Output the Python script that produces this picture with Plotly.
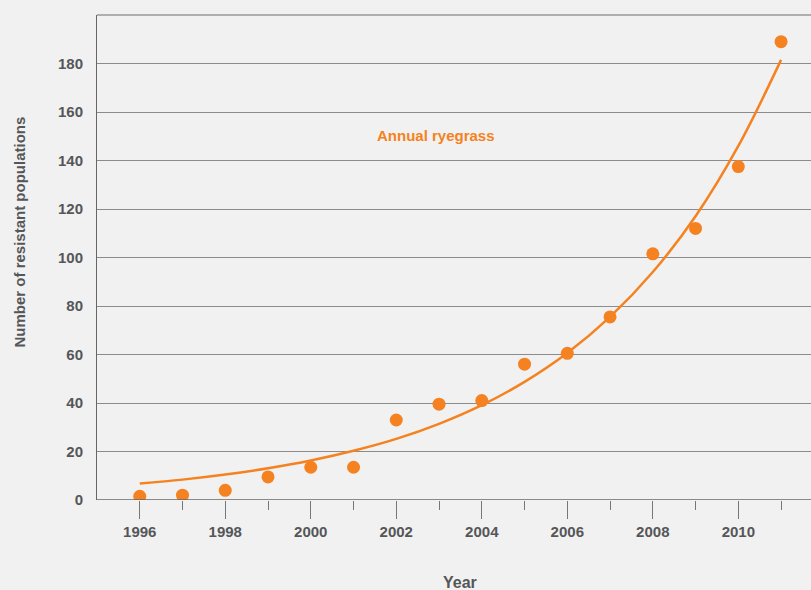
import plotly.graph_objects as go

years = list(range(1996, 2012))
populations = [1.5, 2, 4, 9.5, 13.5, 13.5, 33, 39.5, 41, 56, 60.5, 75.5, 101.5, 112, 137.5, 189]
trend = [6.8, 8.4, 10.5, 13.1, 16.3, 20.3, 25.2, 31.4, 39.1, 48.7, 60.6, 75.5, 94, 117, 146, 181.5]
major_years = [1996, 1998, 2000, 2002, 2004, 2006, 2008, 2010]
minor_years = [1997, 1999, 2001, 2003, 2005, 2007, 2009, 2011]
y_ticks = [0, 20, 40, 60, 80, 100, 120, 140, 160, 180, 200]
y_labels = ["0", "20", "40", "60", "80", "100", "120", "140", "160", "180", ""]

ORANGE = "#f58220"
TEXT = "#555658"
BG = "#f1f1f1"
FONT = "Liberation Sans"

W, H = 811, 590
L, R, T, B = 97, 0, 15, 90
PW, PH = W - L - R, H - T - B

fig = go.Figure()
fig.add_trace(go.Scatter(x=years, y=trend, mode="lines", line=dict(color=ORANGE, width=2.5, shape="spline"),
                         hoverinfo="skip", showlegend=False))
fig.add_trace(go.Scatter(x=years, y=populations, mode="markers",
                         marker=dict(color=ORANGE, size=13, line=dict(width=0)), showlegend=False))

fig.add_annotation(x=2002.94, y=150.5, text="<b>Annual ryegrass</b>", showarrow=False,
                   font=dict(family=FONT, size=15, color=ORANGE))
fig.add_annotation(xref="paper", yref="paper", x=(19 - L) / PW, y=(H - B - 232.5) / PH,
                   text="<b>Number of resistant populations</b>", textangle=-90, showarrow=False,
                   xanchor="center", yanchor="middle", font=dict(family=FONT, size=15, color=TEXT))
fig.add_annotation(xref="paper", yref="paper", x=(459.5 - L) / PW, y=(H - B - 582) / PH,
                   text="<b>Year</b>", showarrow=False,
                   xanchor="center", yanchor="middle", font=dict(family=FONT, size=16, color=TEXT))

fig.update_layout(
    width=W, height=H,
    margin=dict(l=L, r=R, t=T, b=B, autoexpand=False),
    paper_bgcolor=BG, plot_bgcolor=BG,
    font=dict(family=FONT, color=TEXT),
    xaxis=dict(
        range=[1995, 2011.7], tickmode="array", tickvals=major_years,
        ticktext=["<b>%d</b>" % y for y in major_years],
        ticks="outside", ticklen=18, tickcolor="#777", tickwidth=1,
        minor=dict(tickmode="array", tickvals=minor_years, ticks="outside", ticklen=9, tickcolor="#777", showgrid=False),
        showgrid=False, zeroline=False, showline=False, automargin=False,
        tickfont=dict(family=FONT, size=15, color=TEXT),
    ),
    yaxis=dict(
        range=[0, 200], tickmode="array", tickvals=y_ticks,
        ticktext=["<b>%s</b>" % s for s in y_labels],
        showgrid=True, gridcolor="#8c8c8c", gridwidth=1, zeroline=False,
        showline=True, linecolor="#666", linewidth=1, automargin=False,
        ticks="outside", ticklen=10, tickcolor="rgba(0,0,0,0)",
        tickfont=dict(family=FONT, size=15, color=TEXT),
    ),
)
fig.add_shape(type="line", xref="paper", yref="y", x0=0, x1=1, y0=0, y1=0, line=dict(color="#666", width=1.5))
fig.add_shape(type="line", xref="paper", yref="paper", x0=0, x1=1, y0=1, y1=1, line=dict(color="#999", width=1.5))

fig.write_html("out.html", config={"displayModeBar": False},
               post_script="document.body.style.margin='0';document.documentElement.style.background='%s';" % BG)
